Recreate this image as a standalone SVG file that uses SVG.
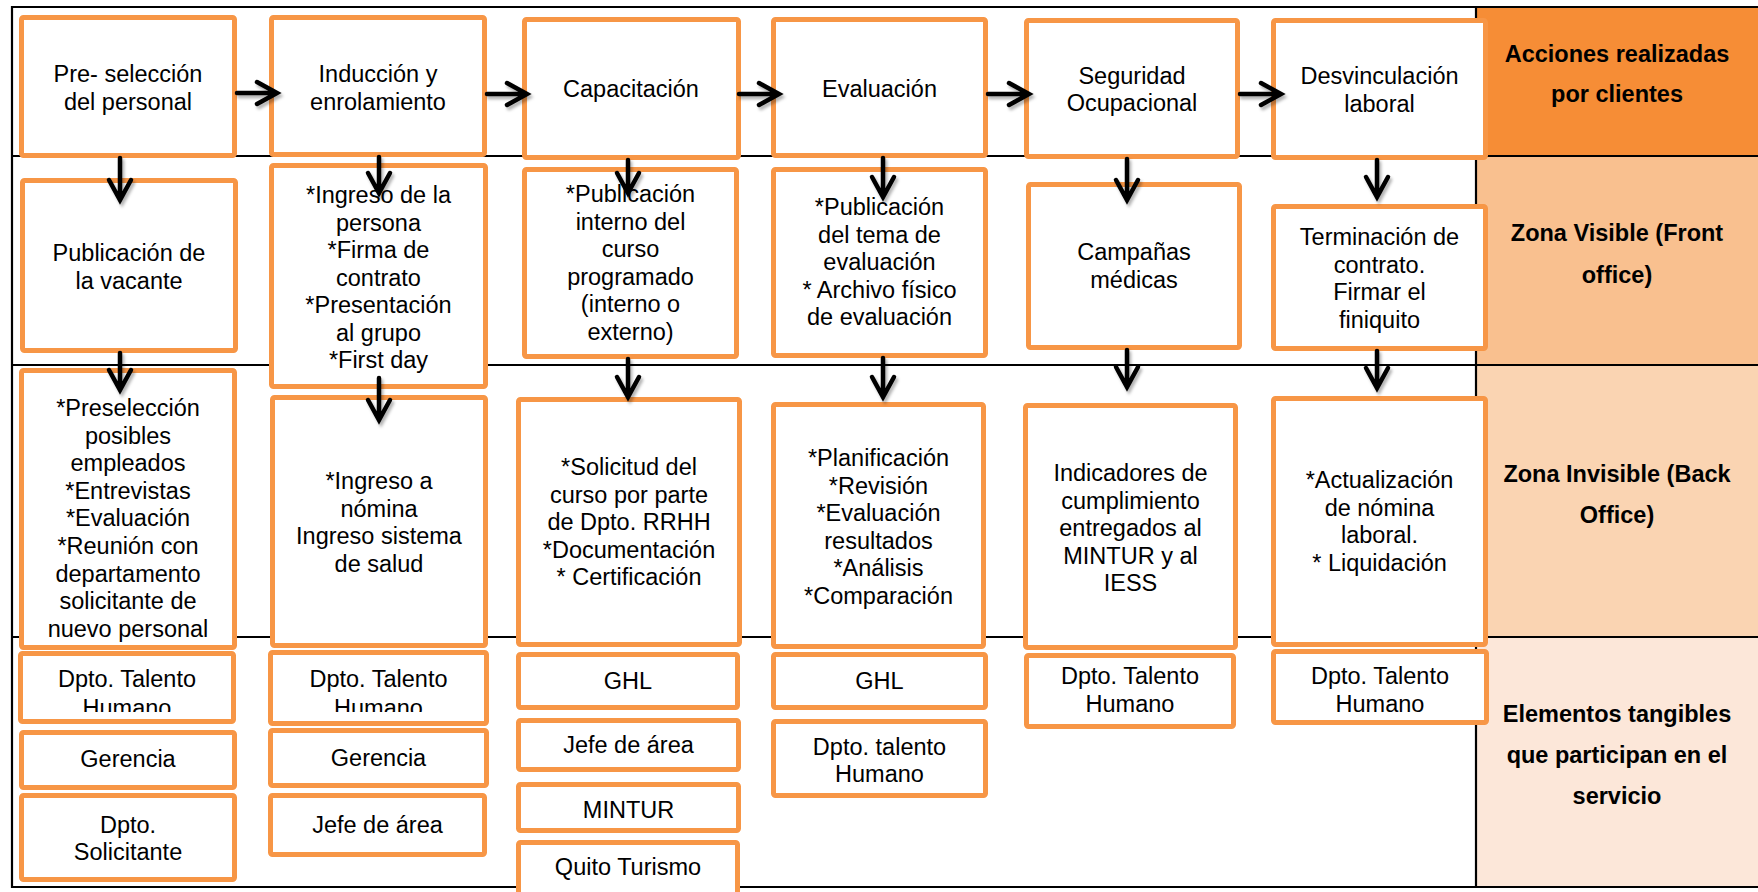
<svg xmlns="http://www.w3.org/2000/svg" width="1758" height="892" viewBox="0 0 1758 892">
<style>
.bx{fill:#fff;stroke:#F79646;stroke-width:5}
.t{font-family:"Liberation Sans",Arial,sans-serif;font-size:23.5px;fill:#000;text-anchor:middle}
.lb{font-family:"Liberation Sans",Arial,sans-serif;font-size:23.5px;font-weight:bold;fill:#000;text-anchor:middle}
.gl{stroke:#000;stroke-width:2.2;fill:none}
.ar{stroke:#000;stroke-width:4.5;fill:none;stroke-linejoin:miter;stroke-linecap:round}
</style>
<defs>
<filter id="sh" x="-50%" y="-50%" width="200%" height="200%"><feDropShadow dx="2" dy="3" stdDeviation="1.5" flood-color="#000" flood-opacity="0.3"/></filter>
<clipPath id="c1"><rect x="18" y="650" width="220" height="62"/></clipPath>
<clipPath id="c2"><rect x="268" y="650" width="222" height="62"/></clipPath>
</defs>
<rect width="1758" height="892" fill="#fff"/>
<g id="lanes">
<rect x="1476" y="7" width="282" height="149" fill="#F68D36"/>
<rect x="1476" y="156" width="282" height="209" fill="#F9C08F"/>
<rect x="1476" y="365" width="282" height="272" fill="#FAD4B2"/>
<rect x="1476" y="637" width="282" height="250" fill="#FCE7D9"/>
<path class="gl" d="M12,7H1758M12,156H1758M12,365H1758M12,637H1758M12,887H1758M12,6V888M1476,7V887"/>
<text class="lb"><tspan x="1617" y="62">Acciones realizadas</tspan><tspan x="1617" y="102">por clientes</tspan></text>
<text class="lb"><tspan x="1617" y="241">Zona Visible (Front</tspan><tspan x="1617" y="283">office)</tspan></text>
<text class="lb"><tspan x="1617" y="482">Zona Invisible (Back</tspan><tspan x="1617" y="523">Office)</tspan></text>
<text class="lb"><tspan x="1617" y="722">Elementos tangibles</tspan><tspan x="1617" y="763">que participan en el</tspan><tspan x="1617" y="804">servicio</tspan></text>
</g>
<g id="n-a1"><rect class="bx" x="21.5" y="17.5" width="213" height="138" rx="2"/><text class="t"><tspan x="128" y="82">Pre- selección</tspan><tspan x="128" y="109.5">del personal</tspan></text></g>
<g id="n-a2"><rect class="bx" x="271.5" y="17.5" width="213" height="137" rx="2"/><text class="t"><tspan x="378" y="82">Inducción y</tspan><tspan x="378" y="109.5">enrolamiento</tspan></text></g>
<g id="n-a3"><rect class="bx" x="524.5" y="19.5" width="214" height="138" rx="2"/><text class="t" x="631" y="97">Capacitación</text></g>
<g id="n-a4"><rect class="bx" x="773.5" y="19.5" width="212" height="136" rx="2"/><text class="t" x="879.5" y="97">Evaluación</text></g>
<g id="n-a5"><rect class="bx" x="1026.5" y="20.5" width="211" height="136" rx="2"/><text class="t"><tspan x="1132" y="84">Seguridad</tspan><tspan x="1132" y="111">Ocupacional</tspan></text></g>
<g id="n-a6"><rect class="bx" x="1273.5" y="20.5" width="212" height="137" rx="2"/><text class="t"><tspan x="1379.5" y="84">Desvinculación</tspan><tspan x="1379.5" y="112">laboral</tspan></text></g>

<g id="n-b1"><rect class="bx" x="22.5" y="180.5" width="213" height="170" rx="2"/><text class="t"><tspan x="129" y="261">Publicación de</tspan><tspan x="129" y="288.5">la vacante</tspan></text></g>
<g id="n-b2"><rect class="bx" x="271.5" y="165.5" width="214" height="221" rx="2"/><text class="t"><tspan x="378.5" y="203">*Ingreso de la</tspan><tspan x="378.5" y="230.5">persona</tspan><tspan x="378.5" y="258">*Firma de</tspan><tspan x="378.5" y="285.5">contrato</tspan><tspan x="378.5" y="313">*Presentación</tspan><tspan x="378.5" y="340.5">al grupo</tspan><tspan x="378.5" y="368">*First day</tspan></text></g>
<g id="n-b3"><rect class="bx" x="524.5" y="169.5" width="212" height="187" rx="2"/><text class="t"><tspan x="630.5" y="202">*Publicación</tspan><tspan x="630.5" y="229.5">interno del</tspan><tspan x="630.5" y="257">curso</tspan><tspan x="630.5" y="284.5">programado</tspan><tspan x="630.5" y="312">(interno o</tspan><tspan x="630.5" y="339.5">externo)</tspan></text></g>
<g id="n-b4"><rect class="bx" x="773.5" y="169.5" width="212" height="186" rx="2"/><text class="t"><tspan x="879.5" y="215">*Publicación</tspan><tspan x="879.5" y="242.5">del tema de</tspan><tspan x="879.5" y="270">evaluación</tspan><tspan x="879.5" y="297.5">* Archivo físico</tspan><tspan x="879.5" y="325">de evaluación</tspan></text></g>
<g id="n-b5"><rect class="bx" x="1028.5" y="184.5" width="211" height="163" rx="2"/><text class="t"><tspan x="1134" y="260">Campañas</tspan><tspan x="1134" y="287.5">médicas</tspan></text></g>
<g id="n-b6"><rect class="bx" x="1273.5" y="206.5" width="212" height="142" rx="2"/><text class="t"><tspan x="1379.5" y="245">Terminación de</tspan><tspan x="1379.5" y="272.5">contrato.</tspan><tspan x="1379.5" y="300">Firmar el</tspan><tspan x="1379.5" y="327.5">finiquito</tspan></text></g>

<g id="n-c1"><rect class="bx" x="21.5" y="370.5" width="213" height="277" rx="2"/><text class="t"><tspan x="128" y="416">*Preselección</tspan><tspan x="128" y="443.6">posibles</tspan><tspan x="128" y="471.2">empleados</tspan><tspan x="128" y="498.8">*Entrevistas</tspan><tspan x="128" y="526.4">*Evaluación</tspan><tspan x="128" y="554">*Reunión con</tspan><tspan x="128" y="581.6">departamento</tspan><tspan x="128" y="609.2">solicitante de</tspan><tspan x="128" y="636.8">nuevo personal</tspan></text></g>
<g id="n-c2"><rect class="bx" x="272.5" y="397.5" width="213" height="248" rx="2"/><text class="t"><tspan x="379" y="489">*Ingreso a</tspan><tspan x="379" y="516.6">nómina</tspan><tspan x="379" y="544.2">Ingreso sistema</tspan><tspan x="379" y="571.8">de salud</tspan></text></g>
<g id="n-c3"><rect class="bx" x="518.5" y="399.5" width="221" height="245" rx="2"/><text class="t"><tspan x="629" y="475">*Solicitud del</tspan><tspan x="629" y="502.6">curso por parte</tspan><tspan x="629" y="530.2">de Dpto. RRHH</tspan><tspan x="629" y="557.8">*Documentación</tspan><tspan x="629" y="585.4">* Certificación</tspan></text></g>
<g id="n-c4"><rect class="bx" x="773.5" y="404.5" width="210" height="242" rx="2"/><text class="t"><tspan x="878.5" y="466">*Planificación</tspan><tspan x="878.5" y="493.6">*Revisión</tspan><tspan x="878.5" y="521.2">*Evaluación</tspan><tspan x="878.5" y="548.8">resultados</tspan><tspan x="878.5" y="576.4">*Análisis</tspan><tspan x="878.5" y="604">*Comparación</tspan></text></g>
<g id="n-c5"><rect class="bx" x="1025.5" y="405.5" width="210" height="242" rx="2"/><text class="t"><tspan x="1130.5" y="481">Indicadores de</tspan><tspan x="1130.5" y="508.6">cumplimiento</tspan><tspan x="1130.5" y="536.2">entregados al</tspan><tspan x="1130.5" y="563.8">MINTUR y al</tspan><tspan x="1130.5" y="591.4">IESS</tspan></text></g>
<g id="n-c6"><rect class="bx" x="1273.5" y="398.5" width="212" height="246" rx="2"/><text class="t"><tspan x="1379.5" y="488">*Actualización</tspan><tspan x="1379.5" y="515.6">de nómina</tspan><tspan x="1379.5" y="543.2">laboral.</tspan><tspan x="1379.5" y="570.8">* Liquidación</tspan></text></g>

<g id="n-d1a"><rect class="bx" x="20.5" y="653.5" width="213" height="68" rx="2"/><text class="t" clip-path="url(#c1)"><tspan x="127" y="687">Dpto. Talento</tspan><tspan x="127" y="715.5">Humano</tspan></text></g>
<g id="n-d1b"><rect class="bx" x="21.5" y="732.5" width="213" height="55" rx="2"/><text class="t" x="128" y="767">Gerencia</text></g>
<g id="n-d1c"><rect class="bx" x="21.5" y="795.5" width="213" height="84" rx="2"/><text class="t"><tspan x="128" y="832.5">Dpto.</tspan><tspan x="128" y="860">Solicitante</tspan></text></g>
<g id="n-d2a"><rect class="bx" x="270.5" y="652.5" width="216" height="71" rx="2"/><text class="t" clip-path="url(#c2)"><tspan x="378.5" y="687">Dpto. Talento</tspan><tspan x="378.5" y="715.5">Humano</tspan></text></g>
<g id="n-d2b"><rect class="bx" x="270.5" y="730.5" width="216" height="55" rx="2"/><text class="t" x="378.5" y="766">Gerencia</text></g>
<g id="n-d2c"><rect class="bx" x="270.5" y="795.5" width="214" height="59" rx="2"/><text class="t" x="377.5" y="833">Jefe de área</text></g>
<g id="n-d3a"><rect class="bx" x="518.5" y="654.5" width="219" height="53" rx="2"/><text class="t" x="628" y="689">GHL</text></g>
<g id="n-d3b"><rect class="bx" x="518.5" y="720.5" width="220" height="49" rx="2"/><text class="t" x="628.5" y="753">Jefe de área</text></g>
<g id="n-d3c"><rect class="bx" x="518.5" y="784.5" width="220" height="46" rx="2"/><text class="t" x="628.5" y="818">MINTUR</text></g>
<g id="n-d3d"><rect class="bx" x="518.5" y="842.5" width="219" height="60" rx="2"/><text class="t" x="628" y="875">Quito Turismo</text></g>
<g id="n-d4a"><rect class="bx" x="773.5" y="654.5" width="212" height="53" rx="2"/><text class="t" x="879.5" y="689">GHL</text></g>
<g id="n-d4b"><rect class="bx" x="773.5" y="721.5" width="212" height="74" rx="2"/><text class="t"><tspan x="879.5" y="755">Dpto. talento</tspan><tspan x="879.5" y="782">Humano</tspan></text></g>
<g id="n-d5a"><rect class="bx" x="1026.5" y="655.5" width="207" height="71" rx="2"/><text class="t"><tspan x="1130" y="684">Dpto. Talento</tspan><tspan x="1130" y="711.5">Humano</tspan></text></g>
<g id="n-d6a"><rect class="bx" x="1273.5" y="651.5" width="213" height="71" rx="2"/><text class="t"><tspan x="1380" y="684">Dpto. Talento</tspan><tspan x="1380" y="711.5">Humano</tspan></text></g>

<g id="connectors" class="ar" filter="url(#sh)">
<path d="M237,93H275M257,82L277,93L257,104"/>
<path d="M487,94H525M507,83L527,94L507,105"/>
<path d="M739,94H777M759,83L779,94L759,105"/>
<path d="M988,94H1027M1009,83L1029,94L1009,105"/>
<path d="M1240,94H1279M1261,83L1281,94L1261,105"/>
<path d="M120,158V198M109,180L120,200L131,180"/>
<path d="M120,353V388M109,370L120,390L131,370"/>
<path d="M379,157V191M368,173L379,193L390,173"/>
<path d="M379,378V418M368,400L379,420L390,400"/>
<path d="M628,160V191M617,173L628,193L639,173"/>
<path d="M628,359V395M617,377L628,397L639,377"/>
<path d="M883,158V195M872,177L883,197L894,177"/>
<path d="M883,358V395M872,377L883,397L894,377"/>
<path d="M1127,159V198M1116,180L1127,200L1138,180"/>
<path d="M1127,350V385M1116,367L1127,387L1138,367"/>
<path d="M1377,160V195M1366,177L1377,197L1388,177"/>
<path d="M1377,351V386M1366,368L1377,388L1388,368"/>
</g>
</svg>
